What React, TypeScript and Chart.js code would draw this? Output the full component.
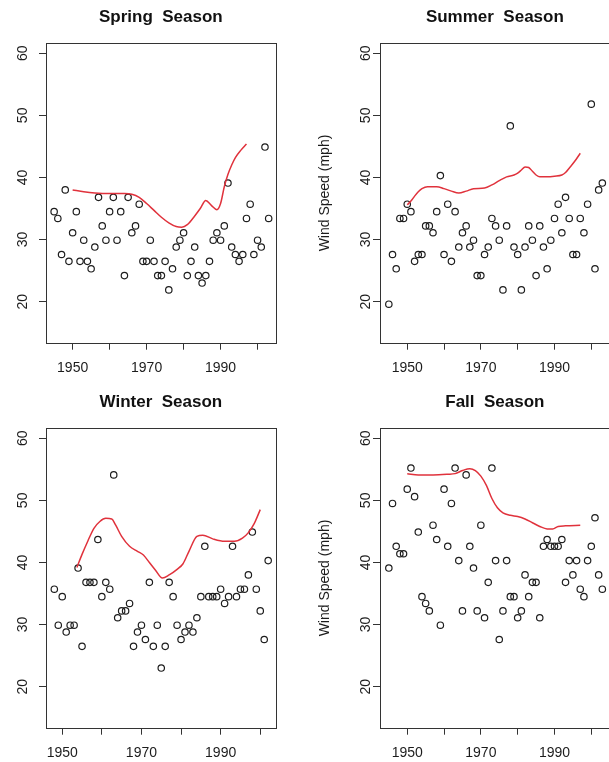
import React, { useEffect, useRef } from "react";
import { Chart, registerables } from "chart.js";

Chart.register(...registerables);

// ---------- data ----------
const YEARS = [
  1945, 1946, 1947, 1948, 1949, 1950, 1951, 1952, 1953, 1954,
  1955, 1956, 1957, 1958, 1959, 1960, 1961, 1962, 1963, 1964,
  1965, 1966, 1967, 1968, 1969, 1970, 1971, 1972, 1973, 1974,
  1975, 1976, 1977, 1978, 1979, 1980, 1981, 1982, 1983, 1984,
  1985, 1986, 1987, 1988, 1989, 1990, 1991, 1992, 1993, 1994,
  1995, 1996, 1997, 1998, 1999, 2000, 2001, 2002, 2003,
];
const WINTER_YEARS = [
  1948, 1949, 1950, 1951, 1952, 1953, 1954, 1955, 1956, 1957,
  1958, 1959, 1960, 1961, 1962, 1963, 1964, 1965, 1966, 1967,
  1968, 1969, 1970, 1971, 1972, 1973, 1974, 1975, 1976, 1977,
  1978, 1979, 1980, 1981, 1982, 1983, 1984, 1985, 1986, 1987,
  1988, 1989, 1990, 1991, 1992, 1993, 1994, 1995, 1996, 1997,
  1998, 1999, 2000, 2001, 2002,
];

const SPRING_SPEED = [
  34.5, 33.4, 27.6, 38.0, 26.5, 31.1, 34.5, 26.5, 29.9, 26.5,
  25.3, 28.8, 36.8, 32.2, 29.9, 34.5, 36.8, 29.9, 34.5, 24.2,
  36.8, 31.1, 32.2, 35.7, 26.5, 26.5, 29.9, 26.5, 24.2, 24.2,
  26.5, 21.9, 25.3, 28.8, 29.9, 31.1, 24.2, 26.5, 28.8, 24.2,
  23.0, 24.2, 26.5, 29.9, 31.1, 29.9, 32.2, 39.1, 28.8, 27.6,
  26.5, 27.6, 33.4, 35.7, 27.6, 29.9, 28.8, 44.9, 33.4,
];
const SUMMER_SPEED = [
  19.6, 27.6, 25.3, 33.4, 33.4, 35.7, 34.5, 26.5, 27.6, 27.6,
  32.2, 32.2, 31.1, 34.5, 40.3, 27.6, 35.7, 26.5, 34.5, 28.8,
  31.1, 32.2, 28.8, 29.9, 24.2, 24.2, 27.6, 28.8, 33.4, 32.2,
  29.9, 21.9, 32.2, 48.3, 28.8, 27.6, 21.9, 28.8, 32.2, 29.9,
  24.2, 32.2, 28.8, 25.3, 29.9, 33.4, 35.7, 31.1, 36.8, 33.4,
  27.6, 27.6, 33.4, 31.1, 35.7, 51.8, 25.3, 38.0, 39.1,
];
const WINTER_SPEED = [
  35.7, 29.9, 34.5, 28.8, 29.9, 29.9, 39.1, 26.5, 36.8, 36.8,
  36.8, 43.7, 34.5, 36.8, 35.7, 54.1, 31.1, 32.2, 32.2, 33.4,
  26.5, 28.8, 29.9, 27.6, 36.8, 26.5, 29.9, 23.0, 26.5, 36.8,
  34.5, 29.9, 27.6, 28.8, 29.9, 28.8, 31.1, 34.5, 42.6, 34.5,
  34.5, 34.5, 35.7, 33.4, 34.5, 42.6, 34.5, 35.7, 35.7, 38.0,
  44.9, 35.7, 32.2, 27.6, 40.3,
];
const FALL_SPEED = [
  39.1, 49.5, 42.6, 41.4, 41.4, 51.8, 55.2, 50.6, 44.9, 34.5,
  33.4, 32.2, 46.0, 43.7, 29.9, 51.8, 42.6, 49.5, 55.2, 40.3,
  32.2, 54.1, 42.6, 39.1, 32.2, 46.0, 31.1, 36.8, 55.2, 40.3,
  27.6, 32.2, 40.3, 34.5, 34.5, 31.1, 32.2, 38.0, 34.5, 36.8,
  36.8, 31.1, 42.6, 43.7, 42.6, 42.6, 42.6, 43.7, 36.8, 40.3,
  38.0, 40.3, 35.7, 34.5, 40.3, 42.6, 47.2, 38.0, 35.7,
];

// smoothed trend curves
const SPRING_FIT_YEARS = [1950, 1953, 1956, 1960, 1964, 1966, 1968, 1970, 1972, 1974, 1976, 1978, 1979.5, 1981, 1983, 1984.5, 1986, 1987.5, 1989, 1990, 1991, 1992, 1993, 1994, 1995.5, 1997];
const SPRING_FIT = [38.0, 37.7, 37.5, 37.4, 37.4, 37.3, 36.8, 35.8, 34.7, 33.6, 32.7, 32.1, 32.0, 32.4, 33.8, 35.0, 36.3, 35.5, 34.8, 35.8, 38.5, 40.5, 42.0, 43.2, 44.4, 45.4];
const SUMMER_FIT_YEARS = [1950, 1951, 1952, 1953, 1954, 1955.5, 1958, 1960, 1962, 1964, 1966, 1968, 1971, 1973, 1975, 1977, 1979, 1980, 1981, 1982, 1983, 1984, 1985, 1986, 1988, 1990, 1992, 1993, 1994, 1995.5, 1997];
const SUMMER_FIT = [35.6, 36.2, 37.0, 37.7, 38.2, 38.5, 38.5, 38.2, 37.8, 37.5, 37.8, 38.2, 38.3, 38.8, 39.5, 40.1, 40.4, 40.7, 41.2, 41.7, 41.6, 41.0, 40.4, 40.1, 40.1, 40.2, 40.4, 40.8, 41.5, 42.6, 43.9];
const WINTER_FIT_YEARS = [1953.7, 1955, 1956.5, 1958, 1959.5, 1961, 1962.5, 1963.5, 1965, 1967, 1969, 1970.5, 1972, 1973.5, 1975.3, 1977, 1979, 1980.5, 1982, 1984, 1985.5, 1988, 1991, 1993.5, 1995.5, 1997, 1998.5, 2000];
const WINTER_FIT = [39.2, 41.3, 43.5, 45.5, 46.6, 47.1, 47.0, 46.0, 44.2, 42.6, 41.8, 41.2, 40.0, 38.8, 37.5, 38.0, 38.9, 39.8, 41.8, 44.2, 44.4, 43.8, 43.4, 43.4, 43.9, 44.8, 46.3, 48.5];
const FALL_FIT_YEARS = [1950, 1953, 1957, 1961, 1963, 1965, 1967, 1968.5, 1970, 1971.5, 1973, 1974.5, 1976, 1978, 1980, 1982, 1984, 1986, 1988, 1989.5, 1991, 1993, 1997];
const FALL_FIT = [54.3, 54.1, 54.1, 54.2, 54.3, 54.8, 55.1, 54.8, 53.9, 52.4, 50.3, 48.8, 48.0, 47.6, 47.4, 47.0, 46.4, 45.8, 45.4, 45.4, 45.8, 45.9, 46.0];

const X_TICKS = [1950, 1960, 1970, 1980, 1990, 2000];
const X_TICK_LABELS = ["1950", "", "1970", "", "1990", ""];
const Y_TICKS = [20, 30, 40, 50, 60];
const Y_TICK_LABELS = ["20", "30", "40", "50", "60"];
const Y_TITLE = "Wind Speed (mph)";
const TITLES = ["Spring  Season", "Summer  Season", "Winter  Season", "Fall  Season"];

// ---------- styling ----------
const FONT = '"Liberation Sans", Arial, Helvetica, sans-serif';
const AXIS_COLOR = "#333333";
const TEXT_COLOR = "#1c1c1c";
const LINE_RED = "#e0323c";
const CANVAS_H = 385;
const BOX_W = 229.7;
const BOX_TOP = 43.3;
const BOX_BOTTOM = 342.7;
const Y_AXIS_W = 30;
const X_AXIS_H = 30;

type PanelProps = {
  title: string;
  years: number[];
  speeds: number[];
  fitYears: number[];
  fit: number[];
  xMin: number;
  xMax: number;
  left: number;
  top: number;
  canvasW: number;
  boxLeft: number;
  yTitle?: string;
  yLabelGap: number;
};

function Panel(props: PanelProps) {
  const ref = useRef<HTMLCanvasElement | null>(null);

  useEffect(() => {
    const canvas = ref.current;
    if (!canvas) return;
    const { title, years, speeds, fitYears, fit, xMin, xMax, yTitle, yLabelGap, canvasW, boxLeft } = props;

    const decor = {
      id: "rDecor",
      afterDraw(chart: any) {
        const { ctx, chartArea } = chart;
        const { left, right, top, bottom } = chartArea;
        ctx.save();
        // box
        ctx.strokeStyle = AXIS_COLOR;
        ctx.lineWidth = 1;
        const l = Math.round(left) + 0.5;
        const t = Math.round(top) + 0.5;
        const r = Math.round(right) + 0.5;
        const b = Math.round(bottom) + 0.5;
        ctx.strokeRect(l, t, r - l, b - t);

        // rotated y tick labels
        const yScale = chart.scales.y;
        ctx.fillStyle = TEXT_COLOR;
        ctx.font = `14px ${FONT}`;
        ctx.textAlign = "center";
        ctx.textBaseline = "middle";
        Y_TICKS.forEach((v, i) => {
          const py = yScale.getPixelForValue(v);
          ctx.save();
          ctx.translate(left - yLabelGap, py);
          ctx.rotate(-Math.PI / 2);
          ctx.fillText(Y_TICK_LABELS[i], 0, 0);
          ctx.restore();
        });

        // y title
        if (yTitle) {
          ctx.save();
          ctx.translate(left - 55, (top + bottom) / 2);
          ctx.rotate(-Math.PI / 2);
          ctx.fillText(yTitle, 0, 0);
          ctx.restore();
        }

        // main title
        ctx.fillStyle = "#111111";
        ctx.font = `bold 17px ${FONT}`;
        ctx.fillText(title, (left + right) / 2, top - 25.5);
        ctx.restore();
      },
    };

    const chart = new Chart(canvas, {
      type: "scatter",
      data: {
        datasets: [
          {
            type: "line",
            data: fitYears.map((x, i) => ({ x, y: fit[i] })),
            borderColor: LINE_RED,
            borderWidth: 1.5,
            pointRadius: 0,
            fill: false,
            cubicInterpolationMode: "monotone",
            order: 0,
          } as any,
          {
            type: "scatter",
            data: years.map((x, i) => ({ x, y: speeds[i] })),
            pointStyle: "circle",
            pointRadius: 3.2,
            pointHoverRadius: 3.2,
            borderColor: "#1e1e1e",
            backgroundColor: "rgba(0,0,0,0)",
            borderWidth: 1.2,
            order: 1,
          } as any,
        ],
      },
      options: {
        animation: false,
        responsive: false,
        events: [],
        layout: {
          padding: {
            left: boxLeft - Y_AXIS_W,
            top: BOX_TOP,
            right: canvasW - boxLeft - BOX_W,
            bottom: CANVAS_H - BOX_BOTTOM - X_AXIS_H,
          },
        },
        plugins: {
          legend: { display: false },
          title: { display: false },
          tooltip: { enabled: false },
        },
        scales: {
          x: {
            type: "linear",
            position: "bottom",
            min: xMin,
            max: xMax,
            afterBuildTicks: (axis: any) => {
              axis.ticks = X_TICKS.map((v) => ({ value: v }));
            },
            afterFit: (axis: any) => {
              axis.height = X_AXIS_H;
            },
            grid: {
              display: true,
              drawOnChartArea: false,
              drawTicks: true,
              tickLength: 7,
              color: AXIS_COLOR,
              lineWidth: 1,
            },
            border: { display: false },
            ticks: {
              autoSkip: false,
              maxRotation: 0,
              minRotation: 0,
              padding: 9.6,
              color: TEXT_COLOR,
              font: { family: FONT, size: 14 },
              callback: (v: any) => {
                const idx = X_TICKS.indexOf(Number(v));
                return idx >= 0 ? X_TICK_LABELS[idx] : "";
              },
            },
          },
          y: {
            type: "linear",
            position: "left",
            min: 13.4,
            max: 61.6,
            afterBuildTicks: (axis: any) => {
              axis.ticks = Y_TICKS.map((v) => ({ value: v }));
            },
            afterFit: (axis: any) => {
              axis.width = Y_AXIS_W;
            },
            grid: {
              display: true,
              drawOnChartArea: false,
              drawTicks: true,
              tickLength: 7,
              color: AXIS_COLOR,
              lineWidth: 1,
            },
            border: { display: false },
            ticks: { display: false },
          },
        },
      } as any,
      plugins: [decor],
    });

    return () => chart.destroy();
  }, []);

  return (
    <canvas
      ref={ref}
      width={props.canvasW}
      height={CANVAS_H}
      style={{
        position: "absolute",
        left: props.left,
        top: props.top,
        width: props.canvasW,
        height: CANVAS_H,
        display: "block",
      }}
    />
  );
}

export default function App() {
  return (
    <div
      style={{
        position: "absolute",
        left: 0,
        top: 0,
        width: 609,
        height: 762,
        overflow: "hidden",
        background: "#ffffff",
      }}
    >
      <Panel
        title={TITLES[0]}
        years={YEARS}
        speeds={SPRING_SPEED}
        fitYears={SPRING_FIT_YEARS}
        fit={SPRING_FIT}
        xMin={1942.8}
        xMax={2004.9}
        left={0}
        top={0}
        canvasW={306}
        boxLeft={46}
        yLabelGap={22.5}
      />
      <Panel
        title={TITLES[1]}
        years={YEARS}
        speeds={SUMMER_SPEED}
        fitYears={SUMMER_FIT_YEARS}
        fit={SUMMER_FIT}
        xMin={1942.6}
        xMax={2005.0}
        left={300}
        top={0}
        canvasW={340}
        boxLeft={80}
        yTitle={Y_TITLE}
        yLabelGap={14}
      />
      <Panel
        title={TITLES[2]}
        years={WINTER_YEARS}
        speeds={WINTER_SPEED}
        fitYears={WINTER_FIT_YEARS}
        fit={WINTER_FIT}
        xMin={1945.9}
        xMax={2003.9}
        left={0}
        top={385}
        canvasW={306}
        boxLeft={46}
        yLabelGap={22.5}
      />
      <Panel
        title={TITLES[3]}
        years={YEARS}
        speeds={FALL_SPEED}
        fitYears={FALL_FIT_YEARS}
        fit={FALL_FIT}
        xMin={1942.6}
        xMax={2005.0}
        left={300}
        top={385}
        canvasW={340}
        boxLeft={80}
        yTitle={Y_TITLE}
        yLabelGap={14}
      />
    </div>
  );
}
